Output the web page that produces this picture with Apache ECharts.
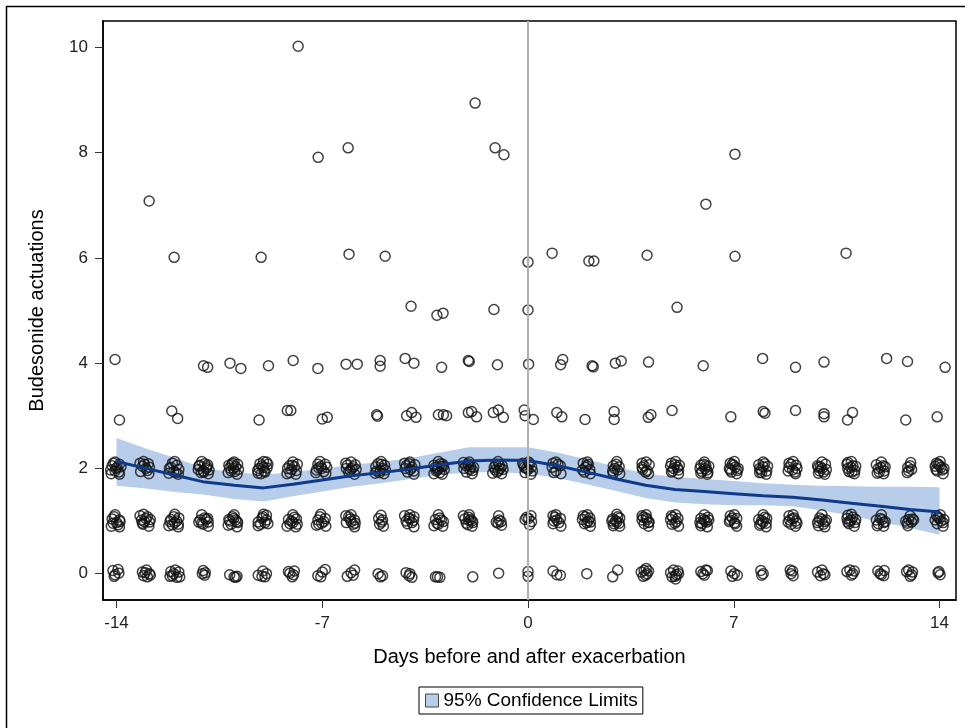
<!DOCTYPE html>
<html>
<head>
<meta charset="utf-8">
<script src="https://cdn.jsdelivr.net/npm/echarts@6/dist/echarts.min.js"></script>
<style>
html,body{margin:0;padding:0;background:#fff;}
#chart{width:965px;height:728px;}
</style>
</head>
<body>
<div id="chart"></div>
<script>
// ---- axis ticks ----
const xTicks = [-14, -7, 0, 7, 14];
const yTicks = [0, 2, 4, 6, 8, 10];
const xTitle = 'Days before and after exacerbation';
const yTitle = 'Budesonide actuations';
const bandName = '95% Confidence Limits';

// ---- fitted curve and 95% limits (by day) ----
const fitDays  = [-14,-13,-12,-11,-10,-9,-8,-7,-6,-5,-4,-3,-2,-1,0,1,2,3,4,5,6,7,8,9,10,11,12,13,14];
const fitMean  = [2.13,2.00,1.87,1.74,1.68,1.63,1.70,1.78,1.86,1.92,1.99,2.07,2.14,2.16,2.15,2.05,1.93,1.80,1.68,1.60,1.56,1.52,1.48,1.45,1.40,1.34,1.28,1.22,1.17];
const fitLower = [1.67,1.62,1.55,1.50,1.42,1.37,1.47,1.56,1.65,1.72,1.80,1.88,1.92,1.93,1.90,1.82,1.70,1.57,1.44,1.35,1.32,1.30,1.30,1.28,1.20,1.10,0.98,0.87,0.74];
const fitUpper = [2.58,2.38,2.20,2.00,1.93,1.88,1.93,2.00,2.07,2.12,2.20,2.30,2.40,2.40,2.40,2.30,2.17,2.03,1.90,1.84,1.80,1.76,1.72,1.69,1.67,1.66,1.65,1.65,1.64];

// ---- observations (jittered day, actuations) ----
const level0Pts = [
[-14.12,0.06],[-13.95,0.08],[-14.05,-0.02],[-13.92,0.01],[-14.08,-0.05],
[-13.12,0.03],[-12.98,0.07],[-12.88,0.0],[-13.08,-0.04],[-12.95,-0.06],[-13.02,0.02],[-12.85,-0.03],
[-12.15,0.04],[-12.0,0.07],[-11.88,0.03],[-12.1,-0.04],[-11.95,-0.07],[-12.05,0.0],[-11.85,-0.06],[-12.18,-0.05],
[-11.05,0.06],[-10.98,0.02],[-11.0,-0.03],[-11.08,0.0],
[-10.15,-0.02],[-10.0,-0.06],[-9.9,-0.05],[-9.95,-0.07],
[-9.18,-0.03],[-9.02,0.05],[-8.9,0.0],[-9.05,-0.05],[-8.95,-0.06],
[-8.15,0.04],[-7.95,0.05],[-8.02,-0.06],[-7.98,-0.02],[-8.1,0.01],
[-7.15,-0.04],[-7.0,0.03],[-6.9,0.08],[-7.05,-0.06],
[-6.15,-0.05],[-6.02,0.02],[-5.9,0.07],[-5.95,-0.03],
[-5.1,0.0],[-4.95,-0.04],[-5.02,-0.06],
[-4.15,0.02],[-4.05,-0.04],[-3.95,-0.07],[-4.02,0.0],
[-3.15,-0.06],[-3.0,-0.07],[-3.08,-0.06],
[-1.88,-0.06],
[-1.0,0.01],
[0.0,0.04],[0.0,-0.05],
[0.85,0.05],[0.98,-0.02],[1.1,-0.03],
[2.0,0.0],
[2.88,-0.06],[3.05,0.07],
[3.85,0.03],[4.0,-0.03],[4.1,0.05],[3.92,-0.05],[4.05,0.0],[3.95,0.06],[4.02,0.1],
[4.85,0.02],[5.0,-0.05],[5.1,0.05],[4.95,0.07],[5.05,-0.02],[4.9,-0.06],[5.12,0.0],[5.02,-0.1],
[5.88,0.04],[6.0,-0.03],[6.1,0.06],[5.95,0.0],[6.05,0.07],
[6.9,0.05],[7.02,0.0],[7.12,-0.03],[6.95,-0.05],
[7.92,0.06],[7.95,-0.03],[8.0,0.0],
[8.92,0.07],[8.95,0.0],[9.02,-0.04],[9.0,0.05],
[9.85,0.03],[10.0,0.07],[10.1,-0.02],[9.95,-0.04],[10.05,0.0],
[10.85,0.04],[11.0,-0.03],[11.1,0.05],[10.95,0.07],[11.05,0.0],
[11.9,0.05],[12.02,-0.02],[12.12,0.06],[11.98,0.0],[12.1,-0.04],
[12.88,0.04],[13.0,-0.05],[13.08,0.03],[12.95,0.07],[13.05,-0.02],
[13.95,0.02],[14.02,-0.02],[13.98,0.04]
];
const level1Pts = [
[-14.15,1.04],[-14.0,0.97],[-13.9,1.02],[-14.08,1.08],[-13.95,0.93],[-14.12,0.96],[-13.88,0.99],
[-13.15,1.02],[-13.0,1.05],[-12.88,0.98],[-13.1,0.94],[-12.95,1.08],[-13.05,0.99],[-12.85,1.03],[-13.12,0.96],
[-12.15,1.03],[-12.02,0.97],[-11.88,1.06],[-12.1,0.93],[-11.95,1.0],[-12.05,1.08],[-11.9,0.94],[-12.18,0.99],
[-11.15,1.02],[-11.0,1.06],[-10.88,0.98],[-11.1,0.96],[-10.95,1.03],[-11.05,0.94],[-10.9,1.05],
[-10.15,1.0],[-10.02,1.05],[-9.88,0.97],[-10.1,0.94],[-9.95,1.02],[-10.05,1.08],[-9.9,0.99],[-10.18,1.03],
[-9.18,0.98],[-9.05,1.05],[-8.9,1.02],[-9.1,0.94],[-8.95,0.97],[-9.02,1.08],[-8.85,0.95],
[-8.15,1.03],[-8.0,0.97],[-7.88,1.04],[-8.1,0.95],[-7.95,1.07],[-8.05,1.0],[-7.85,0.94],
[-7.15,1.02],[-7.02,0.96],[-6.9,1.05],[-7.08,1.08],[-6.95,0.99],[-7.12,0.94],
[-6.18,0.97],[-6.05,1.04],[-5.9,1.02],[-6.1,1.08],[-5.95,0.94],[-6.02,0.99],[-5.88,0.96],
[-5.08,1.05],[-4.98,0.98],[-5.05,0.94],[-4.95,1.02],
[-4.15,1.0],[-4.02,1.04],[-3.88,1.08],[-4.1,0.95],[-3.95,0.97],[-4.05,1.06],[-3.9,1.01],
[-3.15,1.03],[-3.0,1.06],[-2.88,0.99],[-3.1,0.96],[-2.95,1.02],[-3.05,0.94],
[-2.15,1.04],[-2.02,1.07],[-1.9,1.0],[-2.1,0.96],[-1.95,1.03],[-2.05,0.93],[-1.88,0.97],[-2.0,1.01],
[-1.08,0.98],[-0.98,1.02],[-1.02,0.96],[-0.92,0.99],
[-0.05,1.07],[0.02,1.05],[0.12,0.99],[-0.1,1.03],
[0.85,0.95],[0.98,1.02],[1.1,1.05],[0.92,1.07],[1.05,0.97],[0.88,1.0],
[1.85,1.03],[2.0,0.97],[2.1,1.06],[1.92,0.95],[2.05,1.0],[1.95,1.08],[2.12,0.98],
[2.88,1.04],[3.02,0.98],[3.12,1.06],[2.92,0.95],[3.05,1.08],[2.98,1.01],[3.1,0.96],[2.85,1.0],
[3.88,1.02],[4.02,1.06],[4.12,0.98],[3.95,0.95],[4.05,1.03],[3.92,1.07],[4.1,0.97],
[4.85,1.03],[5.0,0.96],[5.1,1.05],[4.92,1.07],[5.05,0.99],[4.9,0.94],
[5.88,1.05],[6.02,1.0],[6.12,1.07],[5.92,0.95],[6.08,0.98],[5.98,1.03],[6.15,1.02],[5.85,0.97],
[6.88,1.02],[7.02,0.97],[7.1,1.05],[6.95,1.06],[7.05,0.95],[6.85,0.99],
[7.85,1.03],[8.0,0.98],[8.12,1.05],[7.92,0.95],[8.05,1.07],[7.95,1.01],[8.1,0.96],
[8.85,0.98],[9.0,1.04],[9.12,1.0],[8.95,0.94],[9.05,1.06],[8.9,1.02],[9.15,0.96],
[9.85,0.97],[10.0,1.03],[10.1,0.99],[9.92,1.06],[10.05,0.94],[9.9,1.0],[10.15,1.02],
[10.85,1.05],[11.0,1.02],[11.12,0.97],[10.92,0.95],[11.05,1.07],[10.95,1.0],[11.15,1.03],[10.88,0.98],
[11.85,1.02],[11.98,1.05],[12.1,0.97],[11.92,0.95],[12.05,1.03],[12.15,0.99],
[12.85,1.0],[12.95,1.03],[13.05,0.98],[13.12,1.02],[12.9,0.96],[13.08,1.04],
[13.85,1.02],[14.0,1.05],[14.12,0.97],[13.92,0.95],[14.05,1.0],[13.95,1.07],[14.15,1.03]
];
const level1More = [
[-14.05,1.12],[-13.9,0.89],[-14.18,0.9],[-13.08,1.13],[-12.9,0.9],[-13.2,1.1],
[-12.02,1.13],[-11.9,0.89],[-12.22,0.91],[-11.1,1.12],[-10.88,0.9],[-11.2,0.98],
[-10.0,1.12],[-9.9,0.89],[-10.2,0.92],[-9.0,1.13],[-9.18,0.91],[-8.9,1.11],
[-8.0,1.12],[-7.9,0.89],[-8.2,0.9],[-7.05,1.13],[-6.88,0.9],[-7.2,0.92],
[-6.02,1.12],[-5.9,0.89],[-6.2,1.1],[-5.0,1.11],[-4.92,0.9],
[-4.02,1.12],[-3.88,0.89],[-4.2,1.1],[-3.05,1.12],[-2.9,0.9],[-3.2,0.91],
[-2.0,1.12],[-1.9,0.9],[-2.2,1.1],[-1.0,1.1],[-0.9,0.92],
[0.05,0.93],[0.1,1.1],[0.95,1.12],[1.12,0.9],[0.85,1.1],
[2.02,1.12],[2.12,0.9],[1.88,1.1],[3.02,1.13],[3.12,0.9],[2.9,0.91],
[4.02,1.12],[4.1,0.9],[3.88,1.1],[5.02,1.12],[5.12,0.9],[4.88,1.1],
[6.0,1.12],[6.1,0.89],[5.88,0.91],[7.02,1.12],[7.1,0.9],[6.88,1.1],
[8.0,1.12],[8.1,0.89],[7.88,0.92],[9.02,1.12],[9.1,0.9],[8.88,1.1],
[10.0,1.12],[10.1,0.89],[9.88,0.91],[11.0,1.13],[11.1,0.9],[10.88,1.11],
[12.02,1.12],[12.1,0.9],[11.88,0.91],[13.0,1.1],[12.92,0.91],
[14.02,1.12],[14.12,0.9],[13.9,1.1]
];
const level2Pts = [
[-14.15,2.05],[-14.05,1.95],[-13.9,2.08],[-14.2,1.97],[-13.98,2.02],[-14.1,2.1],[-13.92,1.93],[-14.02,2.0],[-13.85,2.03],
[-13.12,2.04],[-12.95,1.96],[-13.05,2.08],[-12.88,2.02],[-13.18,1.94],[-13.0,2.0],[-12.92,2.09],
[-12.15,2.02],[-11.95,2.06],[-12.05,1.94],[-11.88,1.98],[-12.1,2.1],[-11.98,1.92],[-12.2,2.0],
[-11.2,2.04],[-11.05,1.95],[-10.9,2.07],[-11.12,1.92],[-10.95,2.0],[-11.0,2.09],[-10.85,1.97],[-11.18,2.06],[-11.03,1.93],[-10.92,2.03],
[-10.18,2.06],[-10.02,2.0],[-9.88,2.08],[-10.1,1.95],[-9.95,2.03],[-10.05,2.1],[-9.85,1.98],[-10.15,2.01],[-9.98,1.94],[-10.08,2.07],
[-9.2,1.96],[-9.05,2.05],[-8.88,2.01],[-9.12,2.09],[-8.95,1.93],[-9.0,2.02],[-8.85,2.08],[-9.15,2.0],[-8.98,1.95],[-9.08,1.9],
[-8.18,2.0],[-8.02,2.06],[-7.88,1.96],[-8.1,1.92],[-7.95,2.03],[-8.05,1.98],[-7.85,2.08],[-8.12,2.05],
[-7.2,1.97],[-7.05,2.04],[-6.9,2.08],[-7.12,2.01],[-6.95,1.94],[-7.02,2.0],[-6.85,2.02],[-7.15,2.08],
[-6.15,2.06],[-6.0,2.0],[-5.88,2.07],[-6.1,1.93],[-5.95,2.03],[-6.05,1.96],[-5.85,1.98],[-6.18,2.0],
[-5.18,2.03],[-5.02,1.96],[-4.88,2.06],[-5.1,2.09],[-4.95,2.0],[-5.05,1.92],[-4.85,1.97],[-5.15,1.95],[-4.98,2.08],
[-4.15,2.05],[-4.0,1.98],[-3.85,2.07],[-4.1,1.93],[-3.95,2.02],[-4.05,2.09],[-3.88,1.95],[-4.18,2.0],
[-3.2,2.06],[-3.05,2.0],[-2.9,2.08],[-3.12,1.95],[-2.95,2.03],[-3.0,1.92],[-2.85,1.98],[-3.15,2.02],[-2.98,2.09],[-3.08,1.97],[-2.88,2.04],
[-2.18,2.0],[-2.02,2.06],[-1.88,1.96],[-2.1,1.93],[-1.95,2.03],[-2.05,2.09],[-1.85,2.02],[-2.12,2.05],[-1.98,1.98],
[-1.15,2.02],[-1.0,1.96],[-0.88,2.05],[-1.1,2.08],[-0.95,2.0],[-1.05,1.93],[-0.85,1.98],[-1.12,1.97],[-0.98,2.06],
[-0.15,2.06],[0.0,1.98],[0.12,2.03],[-0.1,1.92],[0.05,2.09],[-0.05,2.0],[0.15,1.95],[-0.12,2.02],
[0.82,2.02],[0.95,1.95],[1.1,2.05],[0.88,1.92],[1.02,2.08],
[1.85,1.97],[2.0,2.05],[2.1,1.98],[1.92,1.93],[2.05,2.08],[1.95,2.02],
[2.9,2.05],[3.05,1.97],[2.95,2.0],[3.1,2.03],[2.88,1.95],[3.0,2.08],
[3.88,2.02],[4.05,1.96],[4.12,2.07],[3.95,2.05],[4.0,1.93],[3.9,1.98],
[4.85,2.04],[5.0,2.07],[5.12,1.97],[4.92,1.95],[5.08,2.02],[4.95,2.0],[5.15,2.06],[4.88,1.93],
[5.88,2.06],[6.02,2.0],[6.15,2.04],[5.92,1.94],[6.08,1.97],[5.98,2.08],[6.12,1.92],[5.85,2.0],[6.05,2.05],
[6.85,2.0],[7.0,2.06],[7.12,1.96],[6.92,1.93],[7.05,2.02],[6.95,2.08],[7.15,2.0],[6.88,1.97],
[7.85,2.07],[8.0,2.03],[8.12,1.95],[7.92,1.97],[8.05,2.09],[7.95,1.92],[8.15,2.04],[7.88,2.0],
[8.88,2.02],[9.0,1.97],[9.12,2.06],[8.95,2.08],[9.08,1.93],[8.85,1.95],[9.15,2.0],
[9.85,2.05],[10.0,2.0],[10.12,2.08],[9.92,1.95],[10.05,1.93],[9.95,2.03],[10.15,1.98],[9.88,2.02],
[10.85,2.08],[10.98,2.02],[11.12,1.96],[10.92,1.94],[11.05,2.05],[10.88,2.0],[11.15,2.04],[11.02,1.93],
[11.85,2.07],[12.0,2.02],[12.12,1.95],[11.92,2.0],[12.08,2.05],[11.95,1.93],[12.15,2.03],
[12.92,2.02],[13.05,1.98],[13.0,2.05],[12.95,1.95],
[13.85,2.04],[14.0,2.06],[14.1,1.97],[13.92,1.95],[14.05,2.02],[13.95,2.08],[14.15,2.0],[13.88,1.98]
];
const level2More = [
[-14.05,2.12],[-13.9,1.89],[-14.18,1.9],[-13.08,2.13],[-12.9,1.9],[-13.2,2.1],
[-12.02,2.13],[-11.9,1.89],[-12.22,1.91],[-11.1,2.13],[-10.88,1.9],[-11.22,1.98],
[-10.0,2.12],[-9.9,1.89],[-10.2,1.92],[-9.0,2.13],[-9.18,1.91],[-8.9,2.12],
[-8.0,2.12],[-7.9,1.89],[-8.2,1.9],[-7.08,2.13],[-6.88,1.9],[-7.22,1.92],
[-6.02,2.12],[-5.9,1.89],[-6.2,2.1],[-5.0,2.13],[-4.9,1.9],[-5.2,1.91],
[-4.02,2.12],[-3.88,1.89],[-4.2,2.1],[-3.05,2.13],[-2.92,1.89],[-3.2,1.9],
[-2.0,2.12],[-1.9,1.9],[-2.2,2.11],[-1.02,2.13],[-0.9,1.9],[-1.2,1.91],
[0.02,2.12],[0.1,1.89],[-0.18,2.1],[0.95,2.12],[1.12,1.9],[0.85,2.1],
[2.02,2.12],[2.12,1.9],[1.88,2.1],[3.02,2.13],[3.12,1.9],[2.9,1.91],
[4.02,2.12],[4.1,1.9],[3.88,2.1],[5.02,2.13],[5.12,1.9],[4.88,2.1],
[6.0,2.12],[6.1,1.89],[5.88,1.91],[7.02,2.13],[7.1,1.9],[6.88,2.1],
[8.0,2.12],[8.1,1.89],[7.88,1.92],[9.02,2.13],[9.1,1.9],[8.88,2.1],
[10.0,2.12],[10.1,1.89],[9.88,1.91],[11.0,2.13],[11.1,1.9],[10.88,2.11],
[12.02,2.12],[12.1,1.9],[11.88,1.91],[13.02,2.11],[12.9,1.92],
[14.02,2.13],[14.12,1.9],[13.9,2.1]
];
const level3Pts = [
[-13.9,2.92],[-12.12,3.09],[-11.92,2.95],[-9.15,2.92],[-8.19,3.1],[-8.07,3.1],[-7.0,2.94],[-6.83,2.97],
[-5.15,3.02],[-5.12,2.99],[-4.13,3.0],[-3.96,3.06],[-3.81,2.97],[-3.05,3.02],[-2.88,3.02],[-2.77,3.0],
[-2.03,3.06],[-1.92,3.08],[-1.75,2.98],[-1.18,3.06],[-1.01,3.11],[-0.84,2.97],[-0.13,3.11],[-0.1,3.0],
[0.18,2.93],[0.98,3.06],[1.15,2.98],[1.94,2.93],[2.93,3.08],[2.93,2.93],[4.09,2.97],[4.18,3.02],
[4.9,3.1],[6.9,2.98],[8.0,3.08],[8.06,3.05],[9.1,3.1],[10.07,3.04],[10.07,2.98],[10.87,2.92],
[11.04,3.06],[12.85,2.92],[13.92,2.98]
];
const level4Pts = [
[-14.05,4.07],[-11.04,3.95],[-10.9,3.92],[-10.14,4.0],[-9.77,3.9],[-8.83,3.95],[-7.99,4.05],[-7.15,3.9],
[-6.19,3.98],[-5.81,3.98],[-5.03,4.05],[-5.03,3.94],[-4.18,4.09],[-3.88,4.0],[-2.94,3.92],[-2.03,4.05],
[-2.0,4.03],[-1.04,3.97],[0.02,3.98],[1.18,4.07],[1.11,3.97],[2.18,3.95],[2.22,3.93],[2.97,4.0],
[3.17,4.04],[4.1,4.02],[5.96,3.95],[7.98,4.09],[9.1,3.92],[10.07,4.02],[12.2,4.09],[12.91,4.03],[14.19,3.92]
];
const highPts = [
[-12.89,7.08],[-12.04,6.01],[-9.08,6.01],[-7.82,10.02],[-7.14,7.91],[-6.12,8.09],[-6.09,6.07],[-4.86,6.03],
[-3.98,5.08],[-3.1,4.91],[-2.89,4.95],[-1.8,8.94],[-1.12,8.09],[-0.82,7.96],[-1.16,5.02],[0.0,5.92],
[0.0,5.01],[0.82,6.09],[2.07,5.94],[2.24,5.94],[4.05,6.05],[5.07,5.06],[6.05,7.02],[7.04,7.97],
[7.04,6.03],[10.82,6.09]
];

// ---- build series data ----
const allPts = [].concat(level0Pts, level1Pts, level1More, level2Pts, level2More, level3Pts, level4Pts, highPts);
const bandData = fitDays.map((d, i) => [d, fitLower[i], fitUpper[i]]);
const meanData = fitDays.map((d, i) => [d, fitMean[i]]);

const FONT = 'Liberation Sans, Arial, sans-serif';
const BAND = '#b8cde9';
const FITC = '#0e3a8c';

function renderBand(params, api) {
  if (params.dataIndex !== 0) return null;
  const pts = [];
  for (let i = 0; i < bandData.length; i++) pts.push(api.coord([bandData[i][0], bandData[i][2]]));
  for (let i = bandData.length - 1; i >= 0; i--) pts.push(api.coord([bandData[i][0], bandData[i][1]]));
  return {type: 'polygon', shape: {points: pts}, style: {fill: BAND, stroke: null}};
}

const chart = echarts.init(document.getElementById('chart'), null, {renderer: 'canvas'});
chart.setOption({
  animation: false,
  backgroundColor: '#ffffff',
  graphic: [{
    type: 'rect', left: 4, top: 4, silent: true, z: 100,
    shape: {x: 0, y: 0, width: 1200, height: 1200},
    style: {fill: 'none', stroke: '#000', lineWidth: 1.5}
  }],
  grid: {
    left: 103, right: 9, top: 21, bottom: 128,
    show: true, borderColor: '#000', borderWidth: 1.5, containLabel: false
  },
  legend: {
    show: true,
    top: 687,
    left: 419,
    data: [{name: bandName, icon: 'rect', itemStyle: {color: BAND, borderColor: '#444', borderWidth: 1}}],
    itemWidth: 13, itemHeight: 13, itemGap: 5,
    borderColor: '#000', borderWidth: 1, padding: [4, 5, 4, 6],
    textStyle: {fontFamily: FONT, fontSize: 19, color: '#000'}
  },
  xAxis: {
    type: 'value', min: -14.46, max: 14.56,
    name: xTitle, nameLocation: 'middle', nameGap: 47,
    nameTextStyle: {fontFamily: FONT, fontSize: 20, color: '#000'},
    axisLine: {show: true, onZero: false, lineStyle: {color: '#000', width: 1.5}},
    axisTick: {show: true, length: 8, customValues: xTicks, lineStyle: {color: '#333', width: 1}},
    axisLabel: {show: true, customValues: xTicks, margin: 15, fontFamily: FONT, fontSize: 17, color: '#222'},
    splitLine: {show: false}
  },
  yAxis: {
    type: 'value', min: -0.5, max: 10.5,
    name: yTitle, nameLocation: 'middle', nameGap: 56, nameRotate: 90,
    nameTextStyle: {fontFamily: FONT, fontSize: 20, color: '#000'},
    axisLine: {show: true, onZero: false, lineStyle: {color: '#000', width: 1.5}},
    axisTick: {show: true, length: 8, customValues: yTicks, lineStyle: {color: '#333', width: 1}},
    axisLabel: {show: true, customValues: yTicks, margin: 15, fontFamily: FONT, fontSize: 17, color: '#222'},
    splitLine: {show: false}
  },
  series: [
    {
      name: bandName, type: 'custom', data: bandData,
      renderItem: renderBand, itemStyle: {color: BAND},
      encode: {x: 0, y: [1, 2]}, silent: true, z: 1
    },
    {
      name: 'obs', type: 'scatter', data: allPts,
      symbol: 'circle', symbolSize: 10,
      itemStyle: {color: 'rgba(255,255,255,0)', borderColor: '#111', borderWidth: 1.5},
      z: 3,
      markLine: {
        silent: true, symbol: ['none', 'none'], label: {show: false},
        lineStyle: {color: '#b0b0b0', width: 2, type: 'solid'},
        data: [{xAxis: 0}]
      }
    },
    {
      name: 'fit', type: 'line', data: meanData, symbol: 'none', smooth: false,
      lineStyle: {color: FITC, width: 3}, z: 4, silent: true
    }
  ]
});
</script>
</body>
</html>
